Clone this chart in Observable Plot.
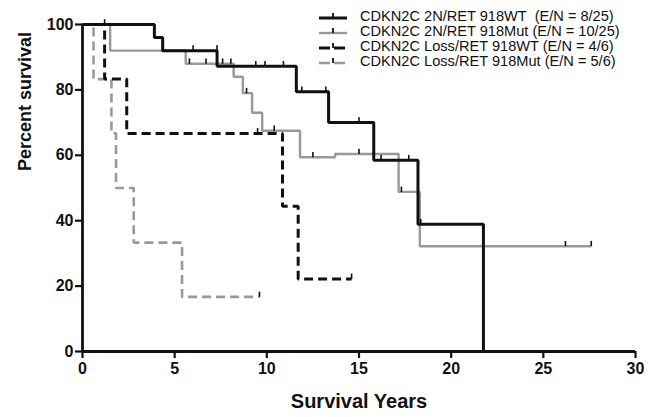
<!DOCTYPE html>
<html><head><meta charset="utf-8">
<script src="https://cdn.jsdelivr.net/npm/d3@7"></script>
<script src="https://cdn.jsdelivr.net/npm/@observablehq/plot@0.6"></script>
<style>
body{margin:0;background:#fff;}
#wrap{position:relative;width:650px;height:417px;font-family:"Liberation Sans",Arial,sans-serif;}
#legend{position:absolute;left:318px;top:9px;font-size:14.6px;color:#111;}
.row{display:flex;align-items:center;height:15px;white-space:pre;}
.row span{line-height:13px;display:inline-block;}
.row svg{margin-right:12px;flex:none;}
</style></head><body><div id="wrap"><div id="legend"></div></div>
<script>
// Series names (legend)
const seriesNames = [
  "CDKN2C 2N/RET 918WT  (E/N = 8/25)",
  "CDKN2C 2N/RET 918Mut (E/N = 10/25)",
  "CDKN2C Loss/RET 918WT (E/N = 4/6)",
  "CDKN2C Loss/RET 918Mut (E/N = 5/6)"
];
// Kaplan-Meier step points (time in years, percent survival)
const wt2nT = [0, 3.9, 4.35, 7.3, 11.6, 13.35, 15.8, 18.2, 21.75];
const wt2nS = [100, 96, 92, 87.2, 79.4, 70, 58.5, 38.9, 0];
const mut2nT = [0, 1.5, 5.6, 8.2, 8.7, 9.2, 9.75, 11.8, 13.7, 17.15, 18.3, 27.6];
const mut2nS = [100, 92, 88, 84, 79, 73, 67.5, 59.4, 60.4, 48.8, 32.2, 32.2];
const lossWtT = [0, 1.2, 2.4, 10.85, 11.7, 14.6];
const lossWtS = [100, 83.3, 66.7, 44.4, 22.2, 22.2];
const lossMutT = [0, 0.6, 1.57, 1.82, 2.78, 5.4, 9.6];
const lossMutS = [100, 83.3, 66.7, 50, 33.3, 16.7, 16.7];
// Censoring marks
const wt2nCensT = [1.2, 6.0, 7.3, 9.4, 9.9, 10.9, 11.9, 13.2, 15.0, 16.2, 17.7, 18.35];
const wt2nCensS = [100, 92, 92, 87.2, 87.2, 87.2, 79.4, 79.4, 70, 58.5, 58.5, 38.9];
const mut2nCensT = [5.8, 6.7, 7.6, 8.05, 8.9, 10.4, 12.5, 15.0, 17.3, 26.2, 27.6];
const mut2nCensS = [88, 88, 88, 88, 79, 67.5, 59.4, 60.4, 48.8, 32.2, 32.2];
const lossWtCensT = [9.5, 14.6];
const lossWtCensS = [66.7, 22.2];
const lossMutCensT = [9.6];
const lossMutCensS = [16.7];
// Axis ticks
const xTicks = [0, 5, 10, 15, 20, 25, 30];
const yTicks = [0, 20, 40, 60, 80, 100];

const styles = [
  {stroke: "#111", width: 3, dash: null},
  {stroke: "#999", width: 2.4, dash: null},
  {stroke: "#111", width: 3, dash: "9,5"},
  {stroke: "#999", width: 2.6, dash: "9,5"}
];
const steps = [[wt2nT, wt2nS], [mut2nT, mut2nS], [lossWtT, lossWtS], [lossMutT, lossMutS]];
const cens = [[wt2nCensT, wt2nCensS], [mut2nCensT, mut2nCensS], [lossWtCensT, lossWtCensS], [lossMutCensT, lossMutCensS]];
const toRows = ([t, s], i) => t.map((x, j) => ({group: seriesNames[i], t: x, s: s[j]}));
const stepRows = steps.map(toRows);
const censRows = cens.map(toRows);

const tickSymbol = {draw(ctx, size) { const h = Math.sqrt(size); ctx.moveTo(0, 0); ctx.lineTo(0, -h); }};

const drawOrder = [3, 2, 1, 0];
const lineMarks = [];
for (const i of drawOrder) {
  const st = styles[i];
  lineMarks.push(Plot.line(stepRows[i], {x: "t", y: "s", curve: "step-after", stroke: st.stroke, strokeWidth: st.width, strokeDasharray: st.dash, strokeLinejoin: "miter", strokeLinecap: "butt"}));
  lineMarks.push(Plot.dot(censRows[i], {x: "t", y: "s", symbol: tickSymbol, r: 3, fill: "none", stroke: "#111", strokeWidth: 1.6}));
}

const chart = Plot.plot({
  width: 650, height: 417,
  marginLeft: 82, marginRight: 15, marginTop: 24, marginBottom: 66,
  style: {fontFamily: '"Liberation Sans", Arial, sans-serif', background: "white", color: "#111"},
  x: {domain: [0, 30]},
  y: {domain: [0, 100]},
  marks: [
    ...lineMarks,
    Plot.ruleX([0], {stroke: "#111", strokeWidth: 2.8}),
    Plot.ruleY([0], {stroke: "#111", strokeWidth: 2.8}),
    Plot.axisY({ticks: yTicks, tickSize: 7, tickPadding: 2, fontSize: 16, fontWeight: "bold", strokeWidth: 2.2, label: null}),
    Plot.axisX({ticks: xTicks, tickSize: 7, tickPadding: 4, fontSize: 16, fontWeight: "bold", strokeWidth: 2.2, label: null}),
    Plot.text(["Percent survival"], {frameAnchor: "left", dx: -57, dy: -17, rotate: -90, fontSize: 18, fontWeight: "bold", fill: "#111"}),
    Plot.text(["Survival Years"], {frameAnchor: "bottom", dy: 56, fontSize: 20, fontWeight: "bold", fill: "#111"})
  ]
});
const wrap = document.getElementById("wrap");
wrap.insertBefore(chart, wrap.firstChild);

// Legend
const legend = d3.select("#legend");
seriesNames.forEach((name, i) => {
  const st = styles[i];
  const row = legend.append("div").attr("class", "row");
  const svg = row.append("svg").attr("width", 30).attr("height", 14);
  svg.append("line").attr("x1", 1).attr("x2", 29).attr("y1", 8).attr("y2", 8)
    .attr("stroke", st.stroke).attr("stroke-width", st.width)
    .attr("stroke-dasharray", st.dash ? "11,4" : null);
  svg.append("line").attr("x1", 15).attr("x2", 15).attr("y1", 8).attr("y2", 3)
    .attr("stroke", "#111").attr("stroke-width", 1.8);
  row.append("span").text(name);
});
</script>
</body></html>
